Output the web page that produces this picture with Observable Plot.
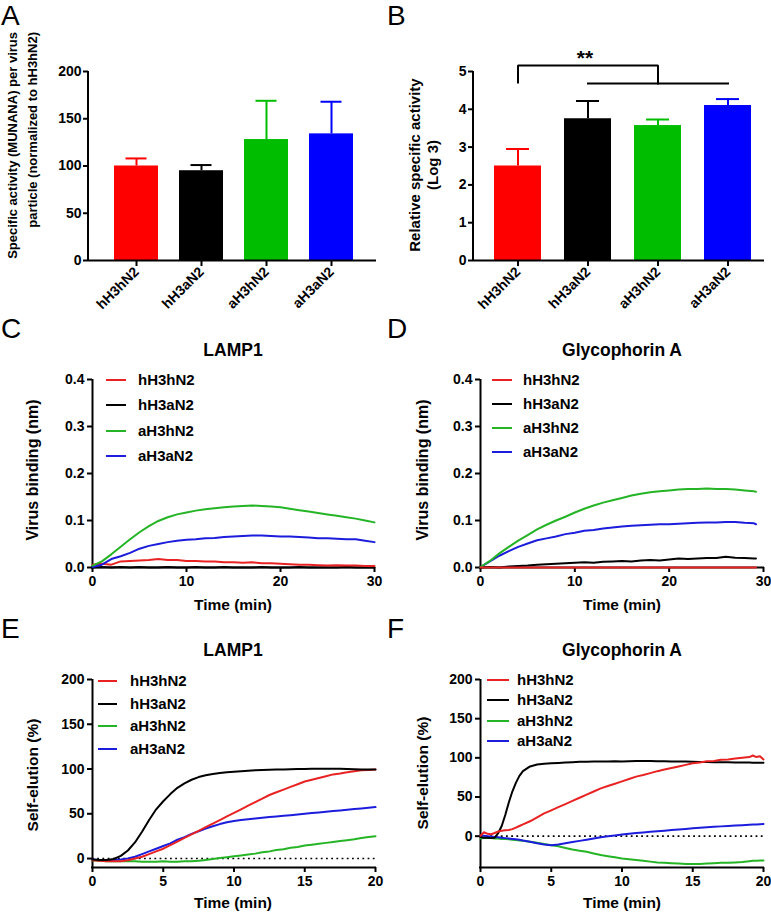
<!DOCTYPE html>
<html>
<head>
<meta charset="utf-8">
<script src="https://cdn.jsdelivr.net/npm/d3@7"></script>
<script src="https://cdn.jsdelivr.net/npm/@observablehq/plot@0.6"></script>
<style>
  html, body { margin: 0; padding: 0; background: #fff; }
  #fig { position: relative; width: 771px; height: 914px; overflow: hidden; background: #fff; }
  #fig > svg { position: absolute; }
  #fig g[aria-label$="axis tick"], #fig g[aria-label$="axis tick"] path { stroke-width: 2px; }
</style>
</head>
<body>
<div id="fig"></div>
<script>
// ---------------- data ----------------
const strains = ["hH3hN2", "hH3aN2", "aH3hN2", "aH3aN2"];
const barColors = ["#ff0000", "#000000", "#00bd00", "#0000ff"];
const lineColors = ["#e82222", "#000000", "#25b425", "#1c1cdc"];

// Panel A: specific activity (MUNANA) per virus particle
const munanaMean = [100, 95, 128, 134];
const munanaUpper = [108, 101, 169, 168];
const munanaTicks = [0, 50, 100, 150, 200];

// Panel B: relative specific activity (log 3)
const log3Mean = [2.5, 3.75, 3.57, 4.1];
const log3Upper = [2.95, 4.22, 3.73, 4.27];
const log3Ticks = [0, 1, 2, 3, 4, 5];
const bracketTop = 5.16;
const bracketLeftFoot = 4.71;
const bracketRightFoot = 4.68;
const sigStars = "**";
const sigStarsY = 5.17;

// Panel C: LAMP1 binding (nm)
const timeC = [0,1,2,3,4,5,6,7,8,9,10,11,12,13,14,15,16,17,18,19,20,21,22,23,24,25,26,27,28,29,30];
const bindC_hH3hN2 = [0.006,0.008,0.006,0.013,0.014,0.015,0.016,0.018,0.016,0.016,0.014,0.014,0.013,0.013,0.011,0.011,0.010,0.011,0.009,0.009,0.008,0.007,0.006,0.006,0.005,0.004,0.005,0.004,0.004,0.003,0.003];
const bindC_hH3aN2 = [0,0.001,0,0.001,0,0.001,0,0,0.001,0,0,0.001,0,0,0.001,0,0,0,0.001,0,0,0,0.001,0,0,0,0,0.001,0,0,0];
const bindC_aH3hN2 = [0.004,0.013,0.028,0.044,0.060,0.075,0.088,0.099,0.107,0.113,0.117,0.121,0.124,0.126,0.128,0.130,0.131,0.132,0.131,0.130,0.128,0.125,0.122,0.119,0.116,0.113,0.110,0.107,0.104,0.100,0.096];
const bindC_aH3aN2 = [0.001,0.006,0.018,0.024,0.031,0.040,0.046,0.050,0.054,0.057,0.059,0.060,0.062,0.063,0.065,0.066,0.067,0.068,0.068,0.067,0.066,0.066,0.065,0.064,0.062,0.062,0.061,0.060,0.060,0.057,0.054];

// Panel D: Glycophorin A binding (nm)
const timeD = [0,1,2,3,4,5,6,7,8,9,10,11,12,13,14,15,16,17,18,19,20,21,22,23,24,25,26,27,28,29,29.2];
const bindD_hH3hN2 = [0,0,0,0,0,0,0,0,0,0,0,0,0,0,0,0,0,0,0,0,0,0,0,0,0,0,0,0,0,0,0];
const bindD_hH3aN2 = [0,0.001,0,0.002,0.003,0.004,0.006,0.007,0.008,0.009,0.010,0.011,0.010,0.012,0.013,0.014,0.013,0.015,0.016,0.015,0.017,0.019,0.018,0.019,0.020,0.020,0.023,0.021,0.020,0.019,0.019];
const bindD_aH3hN2 = [0.001,0.014,0.030,0.044,0.057,0.069,0.081,0.091,0.100,0.108,0.117,0.125,0.132,0.138,0.143,0.148,0.153,0.157,0.160,0.162,0.164,0.166,0.167,0.167,0.168,0.167,0.167,0.166,0.164,0.162,0.161];
const bindD_aH3aN2 = [0.001,0.013,0.025,0.035,0.044,0.051,0.058,0.062,0.066,0.071,0.074,0.078,0.080,0.083,0.085,0.087,0.089,0.090,0.091,0.092,0.092,0.093,0.094,0.095,0.096,0.096,0.097,0.097,0.095,0.094,0.092];

// Panel E: LAMP1 self-elution (%)
const timeE = [0,0.5,1,1.5,2,2.5,3,3.5,4,4.5,5,5.5,6,6.5,7,7.5,8,8.5,9,9.5,10,10.5,11,11.5,12,12.5,13,13.5,14,14.5,15,15.5,16,16.5,17,17.5,18,18.5,19,19.5,20];
const eluE_hH3hN2 = [-2,-2.5,-3,-3,-3,-2,0,2,5,8,11,15,19,23,27,31,35,39,43,47,51,55,59,63,67,71,74,77,80,83,86,88,90,92,94,95,96.5,97.5,98.5,99,99.5];
const eluE_hH3aN2 = [-1,-1.5,-1.5,-0.5,3,9,18,30,43,55,64,72,79,84,88,91,93,94.5,95.5,96.5,97,97.5,98,98.5,99,99.2,99.4,99.6,99.8,100,100,100.2,100.2,100.3,100.3,100.2,100,99.8,99.6,99.5,99.4];
const eluE_aH3hN2 = [-2,-2.5,-3,-3,-3,-3,-3,-3.5,-3.5,-3.5,-3,-3.5,-3.5,-3,-3,-2.5,-1.5,-0.5,0.5,1.5,2.5,3.5,4.5,5.5,7,8,9.5,10.5,12,13,14.5,15.5,16.5,17.5,18.5,19.5,20.5,21.5,23,24,25];
const eluE_aH3aN2 = [-1,-1.5,-2,-1.5,-1,0,2,5,8,11,14,17,21,24,27.5,30.5,33.5,36,38.5,40.5,42,43,44,44.8,45.5,46.3,47,47.8,48.5,49.3,50,50.8,51.5,52.3,53,53.8,54.5,55.3,56,56.8,57.5];

// Panel F: Glycophorin A self-elution (%)
const timeF = [0,0.25,0.5,0.75,1,1.25,1.5,1.75,2,2.25,2.5,2.75,3,3.5,4,4.5,5,5.5,6,6.5,7,7.5,8,8.5,9,9.5,10,10.5,11,11.5,12,12.5,13,13.5,14,14.5,15,15.5,16,16.5,17,17.5,18,18.5,19,19.25,19.5,19.75,20];
const eluF_hH3hN2 = [0.5,5,3,2.5,4,6,7,7.5,8,9,11,13,15,19,24,29,33,37,41,45,49,53,57,61,64,67,70,73,76,78,80.5,83,85,87,89,91,93,94,95.5,96,97.5,98,99,100,101,103,101,102,98];
const eluF_hH3aN2 = [-1,-2,-2,-2.5,-2,4,13,27,43,57,68,77,83,89,91.5,92.5,93,93.5,94,94.5,95,95,95.2,95.3,95.3,95.5,95.3,95.6,95.8,95.8,95.8,95.6,95.5,95.4,95.3,95.2,95,94.8,94.6,94.5,94.4,94.3,94.2,94,93.9,93.8,93.8,93.7,93.6];
const eluF_aH3hN2 = [-3,-2.5,-2,-2.5,-3,-3,-3.5,-3.5,-4,-4.5,-5,-5.5,-6,-7,-8.5,-10,-11.5,-13,-15,-17,-18.5,-20,-22,-24,-25.5,-27,-28.5,-29.5,-30.5,-31.5,-32.5,-33.5,-34,-34.5,-35,-35.5,-35.5,-35.5,-35,-34.5,-34,-34,-33.5,-33,-32,-31.5,-31.5,-31,-31];
const eluF_aH3aN2 = [1,0.5,0,-0.5,-1,-1.5,-2,-2.5,-3,-3.5,-4,-4.5,-5.5,-7,-9,-10.5,-11.5,-10.5,-9,-7.5,-6,-4.5,-3,-1.5,0,1,2,3,4,4.8,5.5,6.2,7,7.8,8.5,9.2,10,10.7,11.3,12,12.5,13,13.5,14,14.5,14.8,15,15.3,15.5];

const bindTicksY = [0, 0.1, 0.2, 0.3, 0.4];
const bindTicksX = [0, 10, 20, 30];
const eluTicksY = [0, 50, 100, 150, 200];
const eluTicksX = [0, 5, 10, 15, 20];

// ---------------- helpers ----------------
const FONT = "'Liberation Sans', Arial, Helvetica, sans-serif";
const fig = document.getElementById("fig");
const baseStyle = {fontFamily: FONT, fontSize: "14px", fontWeight: "bold", color: "#000", background: "transparent", overflow: "visible"};

function place(svg, left, top) {
  svg.style.left = left + "px";
  svg.style.top = top + "px";
  fig.appendChild(svg);
}

// y-axis line along the left edge of the x range, drawn from the plot's own scales
function addYAxisLine(plot) {
  const xr = plot.scale("x").range;
  const yr = plot.scale("y").range;
  const x0 = Math.min(...xr);
  d3.select(plot).append("line")
    .attr("x1", x0).attr("x2", x0)
    .attr("y1", Math.max(...yr) + 1).attr("y2", Math.min(...yr))
    .attr("stroke", "#000").attr("stroke-width", 2);
  return plot;
}

function barPanel({mean, upper, ticks, tickFormat, box, pad, capInset, extra = []}) {
  const rows = strains.map((s, i) => ({strain: s, mean: mean[i], upper: upper[i], color: barColors[i]}));
  const plot = Plot.plot({
    width: box.w, height: box.h,
    marginLeft: box.l, marginRight: box.r, marginTop: box.t, marginBottom: box.b,
    style: baseStyle,
    color: {type: "identity"},
    x: {type: "band", domain: strains, paddingInner: 0.33, paddingOuter: pad.outer, align: pad.align, axis: null},
    y: {domain: [ticks[0], ticks[ticks.length - 1]], axis: null},
    marks: [
      Plot.ruleX(rows, {x: "strain", y1: "mean", y2: "upper", stroke: "color", strokeWidth: 2}),
      Plot.tickY(rows, {x: "strain", y: "upper", stroke: "color", strokeWidth: 2, insetLeft: capInset, insetRight: capInset}),
      Plot.barY(rows, {x: "strain", y: "mean", fill: "color"}),
      Plot.axisY({ticks, tickFormat, tickSize: 5, tickPadding: 2, strokeWidth: 2, label: null}),
      Plot.axisX({tickSize: 6, tickPadding: 3, tickRotate: -45, strokeWidth: 2, label: null}),
      Plot.ruleY([ticks[0]], {stroke: "#000", strokeWidth: 2}),
      ...extra
    ]
  });
  return addYAxisLine(plot);
}

function linePanel({time, series, order, xTicks, yDomain, yTicks, tickFormat, box, zeroLine}) {
  const rows = [];
  order.forEach(i => {
    series[i].forEach((v, k) => rows.push({t: time[k], v, strain: strains[i], color: lineColors[i]}));
  });
  const xDomain = [xTicks[0], xTicks[xTicks.length - 1]];
  return Plot.plot({
    width: box.w, height: box.h,
    marginLeft: box.l, marginRight: box.r, marginTop: box.t, marginBottom: box.b,
    style: baseStyle,
    color: {type: "identity"},
    x: {domain: xDomain, axis: null},
    y: {domain: yDomain, axis: null},
    marks: [
      Plot.axisY({ticks: yTicks, tickFormat, tickSize: 5, tickPadding: 3, strokeWidth: 2, label: null}),
      Plot.axisX({ticks: xTicks, tickSize: 5, tickPadding: 4, strokeWidth: 2, label: null}),
      Plot.ruleX([xDomain[0]], {stroke: "#000", strokeWidth: 2}),
      Plot.ruleY([yDomain[0]], {stroke: "#000", strokeWidth: 2, strokeLinecap: "square"}),
      zeroLine ? Plot.ruleY([0], {stroke: "#000", strokeWidth: 1.6, strokeDasharray: "1.8,3.4"}) : null,
      Plot.line(rows, {x: "t", y: "v", z: "strain", stroke: "color", strokeWidth: 2, curve: "linear"})
    ]
  });
}

// ---------------- panels ----------------
place(barPanel({
  mean: munanaMean, upper: munanaUpper, ticks: munanaTicks, tickFormat: d3.format("d"),
  box: {w: 385, h: 310, l: 88, r: 9, t: 71, b: 50}, pad: {outer: 0.37, align: 0.52}, capInset: 11.5
}), 0, 0);

const bracketLeft = [
  {strain: strains[0], v: bracketLeftFoot},
  {strain: strains[0], v: bracketTop},
  {strain: strains[2], v: bracketTop},
  {strain: strains[2], v: bracketRightFoot}
];
const bracketRight = [
  {strain: strains[1], v: bracketRightFoot},
  {strain: strains[3], v: bracketRightFoot}
];
place(barPanel({
  mean: log3Mean, upper: log3Upper, ticks: log3Ticks, tickFormat: d3.format("d"),
  box: {w: 386, h: 310, l: 88, r: 7, t: 71, b: 50}, pad: {outer: 0.227, align: 0.61}, capInset: 12,
  extra: [
    Plot.line(bracketLeft, {x: "strain", y: "v", stroke: "#000", strokeWidth: 2, strokeLinecap: "square", strokeLinejoin: "miter"}),
    Plot.line(bracketRight, {x: "strain", y: "v", stroke: "#000", strokeWidth: 2, strokeLinecap: "square"}),
    Plot.text([sigStars], {x: () => strains[1], y: () => sigStarsY, text: d => d, fontSize: 21, fontWeight: "bold", lineAnchor: "bottom", dx: -3})
  ]
}), 385, 0);

place(linePanel({
  time: timeC, series: [bindC_hH3hN2, bindC_hH3aN2, bindC_aH3hN2, bindC_aH3aN2], order: [1, 0, 3, 2],
  xTicks: bindTicksX, yDomain: [0, 0.4], yTicks: bindTicksY, tickFormat: d3.format(".1f"),
  box: {w: 385, h: 300, l: 92, r: 11, t: 69, b: 43}
}), 0, 310);

place(linePanel({
  time: timeD, series: [bindD_hH3hN2, bindD_hH3aN2, bindD_aH3hN2, bindD_aH3aN2], order: [1, 3, 2, 0],
  xTicks: bindTicksX, yDomain: [0, 0.4], yTicks: bindTicksY, tickFormat: d3.format(".1f"),
  box: {w: 386, h: 300, l: 95, r: 8, t: 69, b: 43}
}), 385, 310);

place(linePanel({
  time: timeE, series: [eluE_hH3hN2, eluE_hH3aN2, eluE_aH3hN2, eluE_aH3aN2], order: [2, 3, 0, 1],
  xTicks: eluTicksX, yDomain: [-10, 200], yTicks: eluTicksY, tickFormat: d3.format("d"),
  box: {w: 385, h: 304, l: 92, r: 10, t: 69, b: 47}, zeroLine: true
}), 0, 610);

place(linePanel({
  time: timeF, series: [eluF_hH3hN2, eluF_hH3aN2, eluF_aH3hN2, eluF_aH3aN2], order: [2, 3, 1, 0],
  xTicks: eluTicksX, yDomain: [-40, 200], yTicks: eluTicksY, tickFormat: d3.format("d"),
  box: {w: 386, h: 304, l: 95, r: 8, t: 69, b: 47}, zeroLine: true
}), 385, 610);

// ---------------- text overlay (letters, titles, axis labels, legends) ----------------
const ov = d3.select(fig).append("svg")
  .attr("width", 771).attr("height", 914)
  .style("left", "0px").style("top", "0px")
  .style("font-family", FONT);

function txt(s, x, y, {size = 15, weight = "bold", anchor = "start", rotate = false} = {}) {
  const t = ov.append("text").text(s).attr("font-size", size).attr("font-weight", weight)
    .attr("text-anchor", anchor).attr("fill", "#000");
  if (rotate) t.attr("transform", `translate(${x},${y}) rotate(-90)`);
  else t.attr("x", x).attr("y", y);
  return t;
}

// panel letters
[["A", 1, 25], ["B", 387, 25], ["C", 1, 338], ["D", 387, 338], ["E", 1, 638], ["F", 387, 638]]
  .forEach(([s, x, y]) => txt(s, x, y, {size: 28, weight: "normal"}));

// titles
txt("LAMP1", 233, 356, {size: 17.5, anchor: "middle"});
txt("Glycophorin A", 622, 356, {size: 17.5, anchor: "middle"});
txt("LAMP1", 233, 656, {size: 17.5, anchor: "middle"});
txt("Glycophorin A", 622, 656, {size: 17.5, anchor: "middle"});

// y-axis labels
txt("Specific activity (MUNANA) per virus", 17, 32, {size: 13, anchor: "end", rotate: true});
txt("particle (normalized to hH3hN2)", 37, 32, {size: 13, anchor: "end", rotate: true});
txt("Relative specific activity", 420, 165, {size: 15, anchor: "middle", rotate: true});
txt("(Log 3)", 438, 165, {size: 15, anchor: "middle", rotate: true});
txt("Virus binding (nm)", 38, 470, {size: 16, anchor: "middle", rotate: true});
txt("Virus binding (nm)", 428, 470, {size: 16, anchor: "middle", rotate: true});
txt("Self-elution (%)", 38, 775, {size: 15.5, anchor: "middle", rotate: true});
txt("Self-elution (%)", 428, 773, {size: 15.5, anchor: "middle", rotate: true});

// x-axis labels
txt("Time (min)", 233, 610, {size: 15.5, anchor: "middle"});
txt("Time (min)", 622, 610, {size: 15.5, anchor: "middle"});
txt("Time (min)", 233, 908, {size: 15.5, anchor: "middle"});
txt("Time (min)", 622, 908, {size: 15.5, anchor: "middle"});

// legends
function legend(x1, x2, tx, rows) {
  strains.forEach((s, i) => {
    ov.append("line").attr("x1", x1).attr("x2", x2).attr("y1", rows[i]).attr("y2", rows[i])
      .attr("stroke", lineColors[i]).attr("stroke-width", 2);
    txt(s, tx, rows[i] + 5.3, {size: 15});
  });
}
legend(106, 126, 138, [380, 405, 431, 456]);
legend(492, 512, 523, [380, 404, 428, 452]);
legend(98, 117, 130, [681, 704, 726, 749]);
legend(487, 509, 517, [680, 700, 721, 741]);
</script>
</body>
</html>
